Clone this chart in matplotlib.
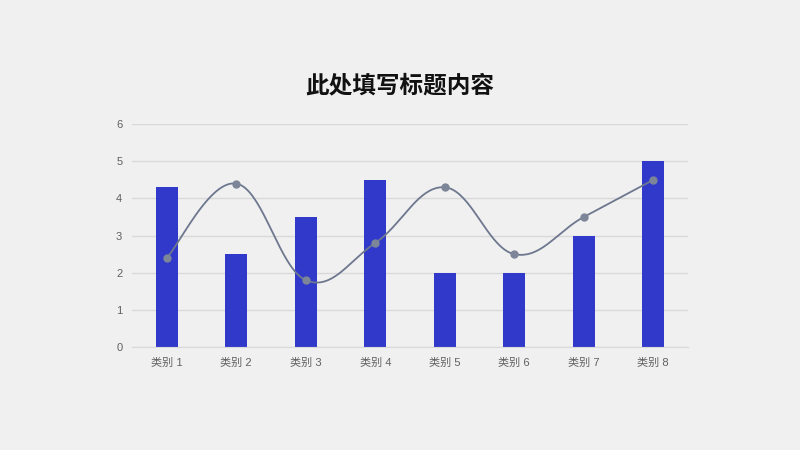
import numpy as np
import matplotlib
matplotlib.use("Agg")
import matplotlib.pyplot as plt

plt.rcParams['font.family'] = ['Noto Sans CJK SC', 'DejaVu Sans']

categories = ["类别 1", "类别 2", "类别 3", "类别 4", "类别 5", "类别 6", "类别 7", "类别 8"]
bar_values = [4.3, 2.5, 3.5, 4.5, 2, 2, 3, 5]
line_values = [2.4, 4.4, 1.8, 2.8, 4.3, 2.5, 3.5, 4.5]
title = "此处填写标题内容"

bg = "#f0f0f0"
fig = plt.figure(figsize=(8, 4.5), dpi=100, facecolor=bg)
ax = fig.add_axes([0.165, 0.229, 0.695, 0.495], facecolor=bg)

x = np.arange(len(categories))
ax.bar(x, bar_values, width=0.32, color="#3139ca", zorder=2)


def smooth_curve(xs, ys, k=0.19, n=40):
    """Catmull-Rom style cubic Bezier through the points."""
    pts = np.column_stack([np.asarray(xs, float), np.asarray(ys, float)])
    out = []
    m = len(pts)
    for i in range(m - 1):
        p0 = pts[max(i - 1, 0)]
        p1 = pts[i]
        p2 = pts[i + 1]
        p3 = pts[min(i + 2, m - 1)]
        c1 = p1 + (p2 - p0) * k
        c2 = p2 - (p3 - p1) * k
        t = np.linspace(0, 1, n)[:, None]
        seg = ((1 - t) ** 3) * p1 + 3 * ((1 - t) ** 2) * t * c1 + 3 * (1 - t) * t ** 2 * c2 + t ** 3 * p2
        out.append(seg if i == 0 else seg[1:])
    out = np.vstack(out)
    return out[:, 0], out[:, 1]


sx, sy = smooth_curve(x, line_values)
ax.plot(sx, sy, color="#6d778e", lw=1.3, zorder=3)
ax.plot(x, line_values, 'o', color="#7d8598", ms=5, zorder=4)

ax.set_xlim(-0.5, len(categories) - 0.5)
ax.set_ylim(0, 6)
ax.set_yticks(range(0, 7))
ax.set_xticks(x)
ax.set_xticklabels(categories)
ax.yaxis.grid(True, color="#d9d9d9", lw=1, zorder=0)
ax.set_axisbelow(True)
for s in ["top", "right", "left"]:
    ax.spines[s].set_visible(False)
ax.spines["bottom"].set_color("#d9d9d9")
ax.tick_params(axis='both', length=0, colors="#606060", labelsize=8)
ax.tick_params(axis='y', pad=7)
ax.tick_params(axis='x', pad=8)
for lbl in ax.get_xticklabels() + ax.get_yticklabels():
    lbl.set_fontfamily(['Liberation Sans', 'Noto Sans CJK SC'])

fig.text(0.5, 0.81, title, ha='center', va='center', fontsize=17, fontweight='bold', color="#111111")

fig.savefig("out.png", dpi=100, facecolor=bg)
